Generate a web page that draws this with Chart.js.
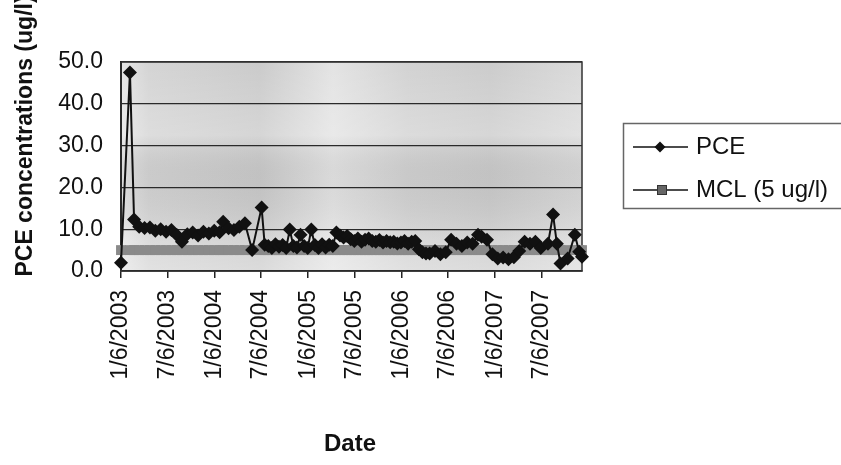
<!DOCTYPE html>
<html><head><meta charset="utf-8">
<script src="https://cdn.jsdelivr.net/npm/chart.js@4.4.1/dist/chart.umd.min.js"></script>
<style>html,body{margin:0;padding:0;background:#fff;}#wrap{width:841px;height:465px;position:relative;}</style>
</head><body><div id="wrap"><canvas id="c" width="841" height="465"></canvas></div>
<script>
// ---- data ----
const pceDates = [
  '2003-01-06','2003-02-10','2003-02-26','2003-03-18','2003-04-08','2003-04-29','2003-05-20','2003-06-10','2003-07-01','2003-07-22',
  '2003-08-12','2003-09-01','2003-09-22','2003-10-13','2003-11-03','2003-11-24','2003-12-15','2004-01-05','2004-01-26','2004-02-09',
  '2004-03-01','2004-03-22','2004-04-12','2004-05-04','2004-06-01','2004-07-08',
  '2004-07-20','2004-08-03','2004-08-17','2004-08-31','2004-09-14','2004-09-28','2004-10-12','2004-10-26','2004-11-09','2004-11-23',
  '2004-12-07','2004-12-21','2005-01-04','2005-01-18','2005-02-01','2005-02-15','2005-03-01','2005-03-15','2005-03-29','2005-04-12',
  '2005-04-26','2005-05-10','2005-05-24','2005-06-07','2005-06-21','2005-07-05','2005-07-19','2005-08-02','2005-08-16','2005-08-30',
  '2005-09-13','2005-09-27','2005-10-11','2005-10-25','2005-11-08','2005-11-22','2005-12-06','2005-12-20','2006-01-03','2006-01-17',
  '2006-01-31','2006-02-14','2006-02-28','2006-03-14','2006-03-28','2006-04-11','2006-04-25',
  '2006-05-16','2006-06-06','2006-06-27','2006-07-18','2006-08-08','2006-08-29','2006-09-19','2006-10-10','2006-10-31','2006-11-14',
  '2006-12-05','2006-12-26','2007-01-16','2007-02-06','2007-02-27','2007-03-20','2007-04-10','2007-05-01','2007-05-22','2007-06-12',
  '2007-07-03','2007-07-31','2007-08-20','2007-09-04','2007-09-18','2007-10-16','2007-11-13','2007-11-30','2007-12-11'
];
const pceValues = [
  2.0, 47.5, 12.3, 10.6, 10.3, 10.4, 9.6, 10.0, 9.4, 9.8,
  8.6, 7.0, 8.8, 9.2, 8.5, 9.4, 9.0, 9.6, 9.3, 11.8,
  10.2, 9.8, 10.6, 11.4, 5.0, 15.2,
  6.3, 6.0, 5.5, 6.4, 5.8, 6.2, 5.5, 9.9, 6.0, 5.6,
  8.7, 6.0, 5.5, 9.9, 6.2, 5.5, 6.4, 5.6, 6.3, 6.0,
  9.2, 8.5, 8.0, 8.4, 7.6, 7.2, 7.8, 7.0, 7.5, 7.8,
  7.2, 7.0, 7.4, 6.8, 7.2, 6.9, 7.0, 6.6, 6.8, 7.2,
  6.5, 7.0, 7.2, 5.2, 4.5, 4.2, 4.2,
  4.8, 4.0, 4.5, 7.5, 6.5, 6.0, 6.8, 6.5, 8.7, 8.2,
  7.5, 4.0, 3.0, 3.2, 2.8, 3.3, 4.8, 7.0, 6.5, 7.0,
  5.5, 6.5, 13.5, 6.5, 1.8, 3.0, 8.7, 4.6, 3.4
];
const mclValues = [
  5, 5, 5, 5, 5, 5, 5, 5, 5, 5,
  5, 5, 5, 5, 5, 5, 5, 5, 5, 5,
  5, 5, 5, 5, 5, 5,
  5, 5, 5, 5, 5, 5, 5, 5, 5, 5,
  5, 5, 5, 5, 5, 5, 5, 5, 5, 5,
  5, 5, 5, 5, 5, 5, 5, 5, 5, 5,
  5, 5, 5, 5, 5, 5, 5, 5, 5, 5,
  5, 5, 5, 5, 5, 5, 5,
  5, 5, 5, 5, 5, 5, 5, 5, 5, 5,
  5, 5, 5, 5, 5, 5, 5, 5, 5, 5,
  5, 5, 5, 5, 5, 5, 5, 5, 5
];
const xTickLabels = ['1/6/2003','7/6/2003','1/6/2004','7/6/2004','1/6/2005','7/6/2005','1/6/2006','7/6/2006','1/6/2007','7/6/2007'];
const yTickValues = [0, 10, 20, 30, 40, 50];
const seriesNames = ['PCE', 'MCL (5 ug/l)'];
const xTitle = 'Date';
const yTitle = 'PCE concentrations (ug/l)';

// ---- helpers ----
const FONT = "'Liberation Sans', Arial, sans-serif";
const origin = Date.UTC(2003, 0, 6);
function isoDay(s) { const p = s.split('-').map(Number); return (Date.UTC(p[0], p[1]-1, p[2]) - origin) / 86400000; }
function mdyDay(s) { const p = s.split('/').map(Number); return (Date.UTC(p[2], p[0]-1, p[1]) - origin) / 86400000; }
const tickDays = xTickLabels.map(mdyDay);
const pcePts = pceDates.map((d, i) => ({ x: isoDay(d), y: pceValues[i] }));
const mclPts = pceDates.map((d, i) => ({ x: isoDay(d), y: mclValues[i] }));
const xMax = isoDay(pceDates[pceDates.length - 1]);

const decor = {
  id: 'decor',
  beforeDraw(chart) {
    const { ctx, chartArea: a } = chart;
    ctx.save();
    const g = ctx.createLinearGradient(a.left, 0, a.right, 0);
    g.addColorStop(0, '#e4e4e4');
    g.addColorStop(0.06, '#d2d2d2');
    g.addColorStop(0.3, '#c8c8c8');
    g.addColorStop(0.46, '#e2e2e2');
    g.addColorStop(0.62, '#d0d0d0');
    g.addColorStop(0.8, '#c9c9c9');
    g.addColorStop(1, '#d8d8d8');
    ctx.fillStyle = g;
    ctx.fillRect(a.left, a.top, a.right - a.left, a.bottom - a.top);
    const v = ctx.createLinearGradient(0, a.top, 0, a.bottom);
    v.addColorStop(0, 'rgba(255,255,255,0.05)');
    v.addColorStop(0.35, 'rgba(255,255,255,0.25)');
    v.addColorStop(0.55, 'rgba(120,120,120,0.08)');
    v.addColorStop(0.85, 'rgba(255,255,255,0.2)');
    v.addColorStop(1, 'rgba(255,255,255,0.35)');
    ctx.fillStyle = v;
    ctx.fillRect(a.left, a.top, a.right - a.left, a.bottom - a.top);
    ctx.restore();
  },
  beforeDatasetsDraw(chart) {
    const { ctx, chartArea: a } = chart;
    ctx.save();
    ctx.strokeStyle = '#333';
    ctx.lineWidth = 1.5;
    ctx.strokeRect(a.left, a.top, a.right - a.left, a.bottom - a.top);
    ctx.restore();
  },
  afterDraw(chart) {
    const { ctx } = chart;
    ctx.save();
    // axis titles
    ctx.fillStyle = '#111';
    ctx.font = 'bold 23px ' + FONT;
    ctx.textAlign = 'center';
    ctx.textBaseline = 'middle';
    ctx.save();
    ctx.translate(26, 136);
    ctx.rotate(-Math.PI / 2);
    ctx.fillText(yTitle, 0, 0);
    ctx.restore();
    ctx.font = 'bold 24px ' + FONT;
    ctx.fillText(xTitle, 350, 444);
    // legend
    ctx.fillStyle = '#fff';
    ctx.fillRect(623, 123, 230, 85);
    ctx.strokeStyle = '#666';
    ctx.lineWidth = 1.5;
    ctx.strokeRect(623.5, 123.5, 240, 85);
    ctx.strokeStyle = '#111';
    ctx.lineWidth = 1.5;
    ctx.beginPath(); ctx.moveTo(633, 147); ctx.lineTo(688, 147); ctx.stroke();
    ctx.fillStyle = '#111';
    ctx.beginPath(); ctx.moveTo(660, 141.5); ctx.lineTo(665.5, 147); ctx.lineTo(660, 152.5); ctx.lineTo(654.5, 147); ctx.closePath(); ctx.fill();
    ctx.beginPath(); ctx.moveTo(633, 190); ctx.lineTo(688, 190); ctx.stroke();
    ctx.fillStyle = '#666';
    ctx.fillRect(657.5, 185.5, 9, 9);
    ctx.strokeStyle = '#333'; ctx.lineWidth = 1;
    ctx.strokeRect(657.5, 185.5, 9, 9);
    ctx.fillStyle = '#111';
    ctx.font = '24px ' + FONT;
    ctx.textAlign = 'left';
    ctx.fillText(seriesNames[0], 696, 147);
    ctx.fillText(seriesNames[1], 696, 190);
    ctx.restore();
  }
};

new Chart(document.getElementById('c'), {
  type: 'line',
  data: {
    datasets: [
      {
        label: seriesNames[0], data: pcePts,
        borderColor: '#111', borderWidth: 2, backgroundColor: '#111',
        pointStyle: 'rectRot', pointRadius: 7, pointBorderWidth: 0,
        pointBackgroundColor: '#111', tension: 0, clip: false
      },
      {
        label: seriesNames[1], data: mclPts,
        borderColor: '#555', borderWidth: 1, backgroundColor: '#8a8a8a',
        pointStyle: 'rect', pointRadius: 7, pointBorderWidth: 0,
        pointBackgroundColor: '#8a8a8a', tension: 0, clip: false
      }
    ]
  },
  options: {
    responsive: false, animation: false, devicePixelRatio: 1,
    layout: { padding: { left: 0, right: 259, top: 62, bottom: 0 } },
    plugins: { legend: { display: false }, tooltip: { enabled: false }, title: { display: false } },
    scales: {
      x: {
        type: 'linear', min: 0, max: xMax,
        afterFit(s) { s.height = 194; },
        afterBuildTicks(s) { s.ticks = tickDays.map(v => ({ value: v })); },
        ticks: {
          autoSkip: false, minRotation: 90, maxRotation: 90, padding: 12,
          font: { family: FONT, size: 23 }, color: '#111',
          callback: (v, i) => xTickLabels[i]
        },
        grid: { display: true, drawOnChartArea: false, drawTicks: true, tickLength: 7, color: '#222', lineWidth: 1.5 },
        border: { display: true, color: '#111', width: 1.5 }
      },
      y: {
        min: 0, max: 50,
        afterFit(s) { s.width = 121; },
        afterBuildTicks(s) { s.ticks = yTickValues.map(v => ({ value: v })); },
        ticks: {
          padding: 18, font: { family: FONT, size: 23 }, color: '#111',
          callback: v => Number(v).toFixed(1)
        },
        grid: { color: '#2a2a2a', lineWidth: 1.2, drawTicks: false },
        border: { display: true, color: '#111', width: 2 }
      }
    }
  },
  plugins: [decor]
});
</script>
</body></html>
